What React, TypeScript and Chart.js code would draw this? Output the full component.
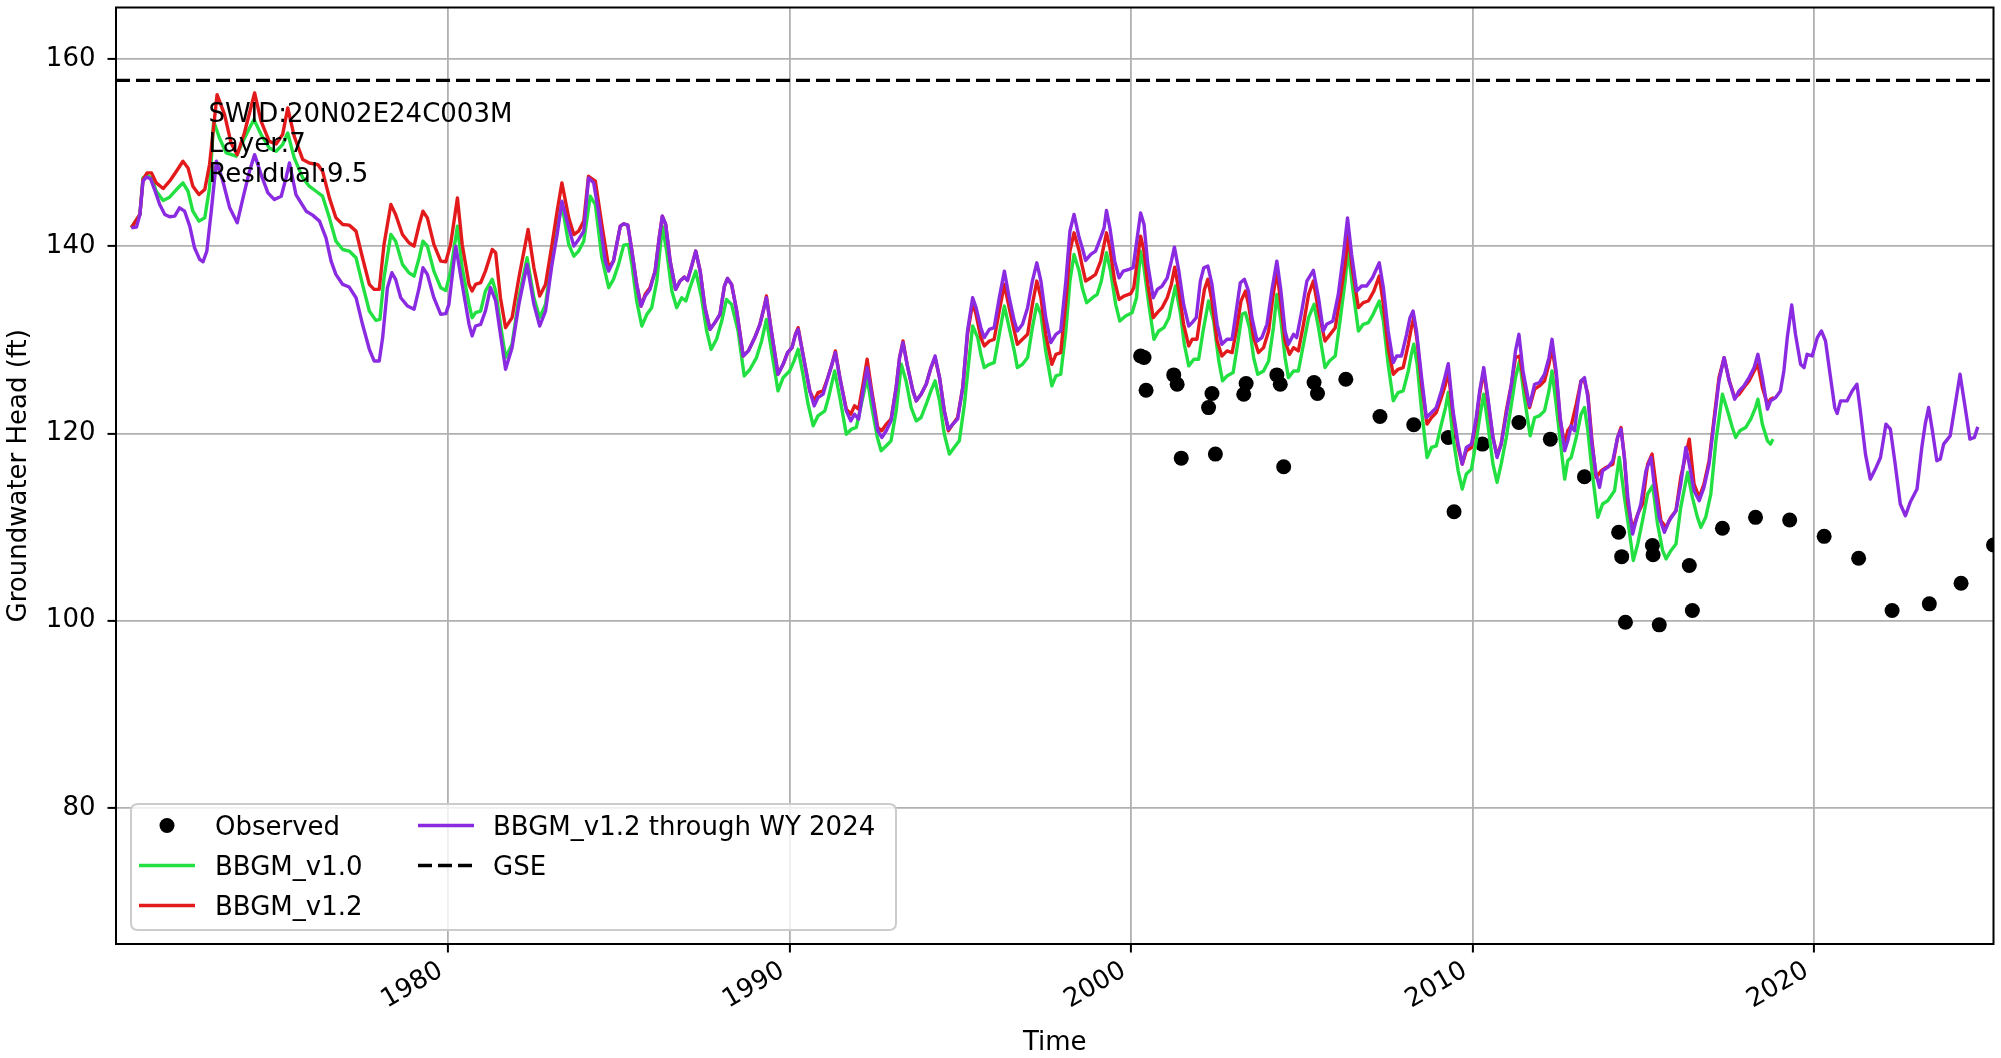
import { useEffect, useRef } from "react";
import { Chart, registerables } from "chart.js";

Chart.register(...registerables);

// ---- axis limits & ticks ----
const X_MIN = 1970.27;
const X_MAX = 2025.26;
const Y_MIN = 65.48;
const Y_MAX = 165.48;
const yearTicks = [1980, 1990, 2000, 2010, 2020];
const headTicks = [80, 100, 120, 140, 160];
const GSE = 157.7;

const annotationLines = ["SWID:20N02E24C003M", "Layer:7", "Residual:9.5"];
const xTitle = "Time";
const yTitle = "Groundwater Head (ft)";

// ---- observed ----
const obsYears = [2000.28, 2000.38, 2000.44, 2001.25, 2001.35, 2001.47, 2002.27, 2002.37, 2002.47, 2003.30, 2003.37, 2004.27, 2004.37, 2004.47, 2005.36, 2005.46, 2006.29, 2007.29, 2008.28, 2009.29, 2009.46, 2010.29, 2011.36, 2012.28, 2013.28, 2014.28, 2014.37, 2014.48, 2015.27, 2015.29, 2015.47, 2016.35, 2016.44, 2017.32, 2018.29, 2019.29, 2020.30, 2021.31, 2022.29, 2023.38, 2024.31, 2025.26];
const obsHeads = [128.27, 128.10, 124.61, 126.25, 125.25, 117.36, 122.76, 124.26, 117.79, 124.19, 125.33, 126.25, 125.25, 116.44, 125.43, 124.26, 125.79, 121.80, 120.92, 119.57, 111.64, 118.86, 121.17, 119.39, 115.37, 109.44, 106.84, 99.84, 108.02, 107.05, 99.56, 105.89, 101.09, 109.87, 111.04, 110.75, 109.01, 106.67, 101.09, 101.80, 104.00, 108.09];

// ---- BBGM_v1.0 ----
const v10Years = [
  1970.72, 1970.97, 1971.06, 1971.18, 1971.31, 1971.45, 1971.65, 1971.84, 1972.04, 1972.23, 1972.38, 1972.52, 1972.70, 1972.87, 1973.01, 1973.13, 1973.30, 1973.50, 1973.79, 1973.99, 1974.18, 1974.31, 1974.52, 1974.76, 1974.96, 1975.15, 1975.30, 1975.49, 1975.74, 1975.93, 1976.13, 1976.32, 1976.52, 1976.71, 1976.91, 1977.10, 1977.30, 1977.49, 1977.69, 1977.88, 1978.00, 1978.12, 1978.32, 1978.46, 1978.66, 1978.85, 1979.00, 1979.15, 1979.26, 1979.39, 1979.58, 1979.78, 1979.93, 1980.07, 1980.27, 1980.41, 1980.61, 1980.70, 1980.80, 1980.95, 1981.09, 1981.29, 1981.39, 1981.53, 1981.68, 1981.87, 1982.07, 1982.31, 1982.51, 1982.68, 1982.85, 1983.04, 1983.19, 1983.33, 1983.53, 1983.68, 1983.82, 1983.97, 1984.16, 1984.31, 1984.50, 1984.70,
  1984.84, 1984.99, 1985.14, 1985.28, 1985.38, 1985.52, 1985.67, 1985.82, 1985.96, 1986.11, 1986.27, 1986.40, 1986.55, 1986.69, 1986.84, 1986.96, 1987.08, 1987.25, 1987.42, 1987.57, 1987.70, 1987.86, 1988.01, 1988.15, 1988.30, 1988.49, 1988.67, 1988.84, 1989.03, 1989.18, 1989.32, 1989.47, 1989.66, 1989.81, 1990.00, 1990.13, 1990.25, 1990.39, 1990.54, 1990.69, 1990.83, 1991.03, 1991.14, 1991.32, 1991.47, 1991.66, 1991.81, 1991.95, 1992.10, 1992.27, 1992.39, 1992.57, 1992.68, 1992.83, 1992.97, 1993.12, 1993.27, 1993.41, 1993.56, 1993.71, 1993.85, 1994.00, 1994.14, 1994.26, 1994.39, 1994.53, 1994.68, 1994.82, 1994.97, 1995.12, 1995.26, 1995.36, 1995.51, 1995.60, 1995.70, 1995.85, 1995.99, 1996.14, 1996.29, 1996.43, 1996.58, 1996.67, 1996.82, 1996.97, 1997.11, 1997.24, 1997.36, 1997.50, 1997.68, 1997.80, 1997.94, 1998.09, 1998.21, 1998.33, 1998.48,
  1998.57, 1998.70, 1998.87, 1999.01, 1999.13, 1999.28, 1999.40, 1999.55, 1999.67, 1999.84, 2000.03, 2000.16, 2000.28, 2000.38, 2000.52, 2000.67, 2000.81, 2000.96, 2001.11, 2001.30, 2001.45, 2001.56, 2001.69, 2001.84, 2001.98, 2002.11, 2002.27, 2002.42, 2002.57, 2002.68, 2002.81, 2002.99, 2003.12, 2003.25, 2003.35, 2003.47, 2003.59, 2003.71, 2003.88, 2004.03, 2004.17, 2004.27, 2004.39, 2004.51, 2004.61, 2004.76, 2004.90, 2005.05, 2005.20, 2005.36, 2005.49, 2005.68, 2005.81, 2005.98, 2006.12, 2006.27, 2006.36, 2006.49, 2006.66, 2006.80, 2006.95, 2007.09, 2007.27, 2007.39, 2007.53, 2007.68, 2007.82, 2007.97, 2008.12, 2008.21, 2008.28, 2008.38, 2008.51, 2008.67, 2008.80, 2008.94, 2009.09, 2009.21, 2009.29, 2009.43, 2009.58, 2009.70, 2009.82, 2009.97, 2010.11, 2010.21, 2010.33, 2010.45, 2010.60, 2010.72, 2010.84, 2010.99, 2011.14, 2011.26, 2011.38, 2011.52, 2011.69, 2011.82, 2011.96, 2012.11, 2012.24, 2012.33,
  2012.45, 2012.57, 2012.70, 2012.79, 2012.89, 2013.04, 2013.18, 2013.28, 2013.38, 2013.50, 2013.67, 2013.81, 2013.96, 2014.16, 2014.30, 2014.45, 2014.59, 2014.71, 2014.84, 2014.98, 2015.13, 2015.28, 2015.42, 2015.57, 2015.67, 2015.81, 2015.96, 2016.10, 2016.30, 2016.44, 2016.59, 2016.69, 2016.83, 2016.98, 2017.13, 2017.32, 2017.47, 2017.61, 2017.71, 2017.83, 2018.00, 2018.15, 2018.29, 2018.36, 2018.49, 2018.64, 2018.73, 2018.80,
];
const v10Heads = [
  141.96, 143.38, 147.29, 147.57, 147.29, 145.86, 144.87, 145.23, 146.04, 146.75, 145.86, 143.73, 142.67, 143.02, 146.22, 153.33, 151.55, 149.95, 149.60, 151.19, 152.62, 153.51, 151.91, 150.48, 150.13, 150.84, 152.08, 149.42, 147.29, 146.40, 145.86, 145.33, 143.02, 140.53, 139.64, 139.47, 138.76, 135.91, 133.07, 132.07, 132.18, 136.62, 141.24, 140.53, 138.05, 137.16, 136.80, 138.76, 140.53, 140.00, 137.33, 135.56, 135.27, 137.33, 142.13, 137.69, 133.78, 132.36, 132.89, 133.07, 135.20, 136.45, 135.20, 131.65, 128.10, 129.52, 134.49, 138.76, 134.49, 132.36, 133.78, 138.76, 141.96, 144.44, 140.18, 138.93, 139.47, 140.53, 145.33, 144.44, 138.76, 135.56,
  136.45, 138.05, 140.11, 140.18, 138.05, 134.14, 131.47, 132.72, 133.43, 136.27, 142.13, 139.47, 135.20, 133.43, 134.49, 134.14, 135.56, 137.33, 134.49, 130.94, 128.98, 130.05, 132.00, 134.31, 133.78, 130.94, 126.14, 126.85, 128.10, 129.87, 132.18, 128.81, 124.54, 125.96, 126.67, 127.74, 128.98, 126.32, 123.12, 120.81, 121.88, 122.41, 123.83, 126.67, 123.83, 119.92, 120.45, 120.63, 123.12, 125.96, 123.12, 119.57, 118.15, 118.68, 119.21, 122.41, 127.38, 125.61, 122.76, 121.34, 121.70, 123.12, 124.54, 125.61, 123.48, 119.92, 117.79, 118.50, 119.21, 123.12, 128.10, 131.47, 130.23, 128.45, 127.03, 127.38, 127.56, 130.58, 133.60, 131.29, 128.81, 127.03, 127.38, 128.10, 131.29, 133.78, 132.72, 128.81, 125.07, 126.14, 126.32, 130.94, 136.27, 139.11, 137.33,
  135.56, 133.96, 134.49, 134.85, 136.27, 139.29, 137.33, 133.78, 132.00, 132.54, 132.89, 134.49, 139.47, 137.69, 133.78, 130.05, 130.94, 131.29, 132.36, 135.74, 132.72, 129.52, 127.21, 127.92, 127.92, 130.94, 134.14, 132.00, 127.74, 125.61, 126.14, 126.50, 129.52, 132.72, 132.89, 131.29, 128.10, 126.32, 126.67, 127.74, 131.29, 134.85, 132.00, 128.10, 125.96, 126.67, 126.67, 129.52, 132.36, 133.78, 131.29, 127.03, 127.74, 128.27, 132.00, 136.27, 139.64, 135.56, 130.94, 131.65, 131.83, 132.72, 134.14, 132.00, 127.38, 123.48, 124.36, 124.54, 126.67, 128.45, 129.52, 127.38, 122.41, 117.43, 118.50, 118.68, 120.99, 122.76, 124.36, 119.57, 116.01, 114.06, 115.66, 116.19, 119.21, 121.70, 124.19, 120.99, 116.72, 114.77, 116.72, 119.57, 123.12, 125.96, 127.74, 123.83, 119.74, 121.70, 121.88, 122.41, 124.54, 126.67,
  123.12, 119.21, 115.12, 117.08, 117.43, 119.57, 122.05, 122.76, 120.28, 116.01, 111.04, 112.46, 112.81, 113.88, 117.43, 113.17, 109.62, 106.42, 108.20, 110.68, 113.53, 114.41, 110.33, 107.48, 106.60, 107.48, 108.19, 112.10, 115.83, 113.17, 111.04, 109.97, 111.04, 113.53, 119.21, 124.19, 122.41, 120.63, 119.57, 120.28, 120.63, 121.52, 122.76, 123.65, 120.99, 119.21, 118.86, 119.39,
];

// ---- BBGM_v1.2 ----
const v12Years = [
  1970.72, 1970.97, 1971.06, 1971.18, 1971.31, 1971.45, 1971.65, 1971.84, 1972.04, 1972.23, 1972.38, 1972.52, 1972.70, 1972.87, 1973.01, 1973.23, 1973.45, 1973.64, 1973.82, 1974.03, 1974.33, 1974.52, 1974.76, 1974.96, 1975.15, 1975.30, 1975.49, 1975.74, 1975.93, 1976.18, 1976.32, 1976.52, 1976.71, 1976.91, 1977.10, 1977.30, 1977.49, 1977.69, 1977.83, 1977.98, 1978.12, 1978.32, 1978.46, 1978.66, 1978.85, 1979.00, 1979.15, 1979.26, 1979.39, 1979.58, 1979.78, 1979.93, 1980.07, 1980.27, 1980.41, 1980.61, 1980.70, 1980.80, 1980.95, 1981.09, 1981.29, 1981.39, 1981.53, 1981.68, 1981.87, 1982.07, 1982.34, 1982.51, 1982.68, 1982.85, 1983.04, 1983.19, 1983.33, 1983.53, 1983.68, 1983.82, 1983.97, 1984.11, 1984.31, 1984.50, 1984.70,
  1984.84, 1985.04, 1985.14, 1985.26, 1985.38, 1985.52, 1985.65, 1985.77, 1985.91, 1986.06, 1986.18, 1986.27, 1986.37, 1986.50, 1986.66, 1986.79, 1986.92, 1987.01, 1987.13, 1987.25, 1987.38, 1987.52, 1987.67, 1987.81, 1987.96, 1988.09, 1988.18, 1988.30, 1988.45, 1988.64, 1988.79, 1988.98, 1989.13, 1989.25, 1989.32, 1989.45, 1989.66, 1989.81, 1989.94, 1990.07, 1990.17, 1990.25, 1990.39, 1990.59, 1990.72, 1990.83, 1990.98, 1991.12, 1991.24, 1991.34, 1991.47, 1991.66, 1991.79, 1991.90, 1992.02, 1992.15, 1992.27, 1992.39, 1992.58, 1992.70, 1992.83, 1992.97, 1993.12, 1993.22, 1993.32, 1993.44, 1993.61, 1993.71, 1993.85, 1994.00, 1994.14, 1994.26, 1994.39, 1994.53, 1994.65, 1994.78, 1994.92, 1995.07, 1995.21, 1995.36, 1995.46, 1995.60, 1995.70, 1995.85, 1995.99, 1996.14, 1996.29, 1996.43, 1996.58, 1996.67, 1996.82, 1996.97, 1997.11, 1997.24, 1997.36, 1997.50, 1997.68, 1997.80, 1997.94, 1998.09, 1998.21, 1998.33, 1998.48,
  1998.57, 1998.67, 1998.82, 1998.96, 1999.11, 1999.28, 1999.38, 1999.52, 1999.65, 1999.79, 1999.99, 2000.08, 2000.18, 2000.28, 2000.38, 2000.49, 2000.65, 2000.77, 2000.91, 2001.06, 2001.18, 2001.28, 2001.40, 2001.54, 2001.69, 2001.79, 2001.93, 2002.05, 2002.15, 2002.25, 2002.37, 2002.52, 2002.66, 2002.81, 2002.96, 2003.08, 2003.22, 2003.35, 2003.44, 2003.59, 2003.73, 2003.88, 2004.03, 2004.15, 2004.27, 2004.39, 2004.51, 2004.64, 2004.76, 2004.90, 2005.05, 2005.20, 2005.34, 2005.49, 2005.68, 2005.83, 2005.98, 2006.12, 2006.27, 2006.36, 2006.49, 2006.66, 2006.80, 2006.95, 2007.11, 2007.27, 2007.39, 2007.53, 2007.68, 2007.82, 2007.97, 2008.12, 2008.21, 2008.28, 2008.38, 2008.51, 2008.67, 2008.80, 2008.94, 2009.09, 2009.21, 2009.29, 2009.43, 2009.58, 2009.70, 2009.82, 2009.97, 2010.11, 2010.21, 2010.33, 2010.45, 2010.60, 2010.72, 2010.84, 2010.99, 2011.14, 2011.26, 2011.38, 2011.52, 2011.67, 2011.82, 2011.96, 2012.11, 2012.24, 2012.33,
  2012.45, 2012.57, 2012.70, 2012.79, 2012.89, 2013.04, 2013.18, 2013.28, 2013.38, 2013.50, 2013.62, 2013.77, 2013.91, 2014.11, 2014.25, 2014.35, 2014.45, 2014.55, 2014.69, 2014.84, 2014.98, 2015.13, 2015.26, 2015.37, 2015.52, 2015.67, 2015.81, 2015.96, 2016.10, 2016.35, 2016.49, 2016.64, 2016.78, 2016.93, 2017.08, 2017.22, 2017.37, 2017.52, 2017.68, 2017.81, 2017.95, 2018.10, 2018.25, 2018.36, 2018.49, 2018.64, 2018.73, 2018.83,
];
const v12Heads = [
  141.96, 143.38, 147.11, 147.82, 147.82, 146.75, 146.15, 146.93, 148.00, 149.06, 148.35, 146.40, 145.51, 146.04, 148.71, 156.17, 154.04, 151.02, 149.77, 152.08, 156.35, 153.33, 151.19, 150.91, 151.91, 154.75, 151.73, 149.24, 148.88, 148.71, 148.00, 145.15, 143.02, 142.31, 142.24, 141.60, 138.76, 135.91, 135.38, 135.38, 140.18, 144.44, 143.38, 141.24, 140.36, 140.00, 142.31, 143.73, 143.02, 140.18, 138.40, 138.33, 140.18, 145.15, 140.18, 135.91, 135.20, 135.91, 136.09, 137.33, 139.64, 139.29, 134.49, 131.29, 132.36, 136.62, 141.78, 137.69, 134.67, 135.91, 140.18, 143.73, 146.75, 143.02, 141.24, 141.60, 142.67, 147.46, 146.93, 142.31, 137.69,
  138.40, 142.13, 142.38, 142.24, 139.47, 135.91, 133.60, 134.85, 135.56, 137.33, 140.89, 143.20, 142.31, 138.40, 135.38, 136.27, 136.70, 136.34, 137.87, 139.47, 137.33, 133.43, 131.12, 131.83, 132.72, 135.74, 136.55, 135.91, 133.07, 128.27, 128.81, 130.23, 131.65, 133.43, 134.67, 131.29, 126.32, 127.38, 128.63, 129.16, 130.58, 131.29, 128.45, 124.54, 123.48, 124.36, 124.54, 125.96, 127.38, 128.81, 125.96, 122.59, 122.05, 122.94, 122.59, 125.25, 127.92, 124.90, 120.63, 120.28, 120.99, 121.52, 124.90, 128.09, 129.87, 127.38, 124.54, 123.48, 124.19, 125.25, 127.03, 128.09, 125.96, 122.41, 120.28, 120.99, 121.70, 124.90, 130.58, 133.96, 132.72, 130.23, 129.34, 129.87, 130.05, 133.07, 135.91, 133.43, 130.94, 129.52, 130.05, 130.58, 133.78, 136.27, 134.49, 130.58, 127.38, 128.45, 128.63, 134.14, 139.47, 141.42, 139.47,
  137.87, 136.27, 136.62, 136.98, 138.40, 141.42, 139.82, 136.27, 134.31, 134.67, 134.92, 135.56, 138.40, 141.07, 139.47, 135.91, 132.36, 132.89, 133.43, 134.49, 135.91, 137.76, 135.20, 131.65, 129.34, 130.05, 130.05, 133.07, 135.38, 136.45, 134.14, 129.87, 128.27, 128.81, 128.63, 130.94, 134.14, 135.20, 133.78, 130.23, 128.63, 129.16, 130.94, 134.49, 137.33, 133.78, 129.87, 128.45, 129.16, 128.81, 131.65, 134.85, 136.27, 133.07, 129.87, 130.58, 131.29, 134.49, 138.05, 141.24, 137.33, 133.43, 133.96, 134.14, 135.20, 136.80, 133.78, 129.16, 126.32, 126.85, 127.03, 129.52, 131.29, 132.36, 129.87, 125.25, 120.99, 121.70, 122.23, 123.83, 125.25, 126.67, 122.05, 118.50, 116.72, 118.15, 118.50, 121.34, 124.19, 126.67, 123.48, 119.57, 117.61, 118.86, 122.41, 125.25, 128.10, 128.27, 125.25, 122.76, 124.72, 125.07, 125.61, 127.38, 129.16,
  126.32, 121.34, 118.86, 120.28, 120.81, 123.12, 125.61, 125.61, 124.19, 119.21, 115.30, 116.01, 116.37, 116.72, 119.57, 120.63, 117.43, 112.46, 109.79, 111.39, 112.46, 116.72, 117.79, 114.59, 110.68, 109.97, 111.04, 111.75, 115.30, 119.39, 114.59, 113.17, 114.59, 117.08, 121.70, 125.96, 128.09, 125.61, 123.83, 124.19, 124.90, 125.61, 126.67, 127.38, 124.90, 123.12, 123.65, 123.83,
];

// ---- BBGM_v1.2 through WY 2024 ----
const wy24Years = [
  1970.72, 1970.87, 1970.97, 1971.06, 1971.16, 1971.28, 1971.40, 1971.55, 1971.70, 1971.84, 1971.99, 1972.13, 1972.28, 1972.43, 1972.57, 1972.72, 1972.82, 1972.93, 1973.06, 1973.21, 1973.40, 1973.60, 1973.82, 1973.99, 1974.18, 1974.33, 1974.52, 1974.72, 1974.91, 1975.11, 1975.25, 1975.35, 1975.54, 1975.84, 1976.03, 1976.23, 1976.42, 1976.57, 1976.71, 1976.91, 1977.10, 1977.30, 1977.49, 1977.69, 1977.83, 1977.98, 1978.08, 1978.22, 1978.35, 1978.46, 1978.61, 1978.81, 1979.00, 1979.15, 1979.26, 1979.39, 1979.58, 1979.78, 1979.93, 1980.02, 1980.22, 1980.41, 1980.61, 1980.70, 1980.80, 1980.95, 1981.09, 1981.24, 1981.39, 1981.53, 1981.68, 1981.87, 1982.07, 1982.31, 1982.51, 1982.68, 1982.85, 1983.04, 1983.19, 1983.33, 1983.53, 1983.68, 1983.82, 1983.97, 1984.11, 1984.26, 1984.40, 1984.60, 1984.70,
  1984.84, 1985.04, 1985.14, 1985.26, 1985.38, 1985.52, 1985.65, 1985.77, 1985.91, 1986.06, 1986.18, 1986.27, 1986.37, 1986.50, 1986.66, 1986.79, 1986.92, 1987.01, 1987.13, 1987.25, 1987.38, 1987.52, 1987.67, 1987.81, 1987.96, 1988.09, 1988.18, 1988.30, 1988.45, 1988.64, 1988.79, 1988.98, 1989.13, 1989.25, 1989.32, 1989.45, 1989.66, 1989.81, 1989.94, 1990.07, 1990.17, 1990.25, 1990.39, 1990.59, 1990.72, 1990.83, 1990.98, 1991.12, 1991.24, 1991.34, 1991.47, 1991.66, 1991.79, 1991.90, 1992.02, 1992.15, 1992.27, 1992.39, 1992.58, 1992.70, 1992.83, 1992.97, 1993.12, 1993.22, 1993.32, 1993.44, 1993.61, 1993.71, 1993.85, 1994.00, 1994.14, 1994.26, 1994.39, 1994.53, 1994.65, 1994.78, 1994.92, 1995.07, 1995.21, 1995.36, 1995.46, 1995.60, 1995.70, 1995.85, 1995.99, 1996.14, 1996.29, 1996.43, 1996.58, 1996.67, 1996.82, 1996.97, 1997.11, 1997.24, 1997.36, 1997.50, 1997.65, 1997.80, 1997.94, 1998.09, 1998.21, 1998.33, 1998.48,
  1998.57, 1998.67, 1998.82, 1998.96, 1999.09, 1999.21, 1999.28, 1999.38, 1999.52, 1999.65, 1999.77, 1999.94, 2000.06, 2000.18, 2000.28, 2000.38, 2000.49, 2000.65, 2000.77, 2000.91, 2001.06, 2001.18, 2001.27, 2001.40, 2001.54, 2001.69, 2001.79, 2001.91, 2002.03, 2002.13, 2002.25, 2002.37, 2002.52, 2002.66, 2002.81, 2002.96, 2003.08, 2003.20, 2003.32, 2003.44, 2003.54, 2003.69, 2003.83, 2003.98, 2004.12, 2004.27, 2004.39, 2004.51, 2004.61, 2004.76, 2004.85, 2005.00, 2005.15, 2005.34, 2005.49, 2005.63, 2005.73, 2005.91, 2006.07, 2006.22, 2006.34, 2006.46, 2006.61, 2006.75, 2006.90, 2007.07, 2007.27, 2007.39, 2007.53, 2007.68, 2007.78, 2007.92, 2008.07, 2008.17, 2008.26, 2008.36, 2008.51, 2008.65, 2008.80, 2008.94, 2009.09, 2009.19, 2009.29, 2009.43, 2009.58, 2009.70, 2009.82, 2009.97, 2010.11, 2010.21, 2010.33, 2010.45, 2010.60, 2010.72, 2010.84, 2010.99, 2011.14, 2011.26, 2011.36, 2011.48, 2011.67, 2011.82, 2011.96, 2012.11, 2012.24, 2012.33,
  2012.45, 2012.57, 2012.70, 2012.79, 2012.89, 2012.99, 2013.08, 2013.18, 2013.28, 2013.38, 2013.50, 2013.62, 2013.72, 2013.81, 2013.96, 2014.11, 2014.25, 2014.35, 2014.45, 2014.55, 2014.69, 2014.79, 2014.93, 2015.08, 2015.23, 2015.32, 2015.47, 2015.62, 2015.76, 2015.96, 2016.10, 2016.25, 2016.35, 2016.49, 2016.64, 2016.78, 2016.93, 2017.08, 2017.22, 2017.37, 2017.52, 2017.68, 2017.81, 2017.95, 2018.10, 2018.25, 2018.36, 2018.49, 2018.64, 2018.73, 2018.88, 2019.02, 2019.12, 2019.22, 2019.35, 2019.46, 2019.61, 2019.71, 2019.80, 2019.95, 2020.10, 2020.22, 2020.34, 2020.46, 2020.61, 2020.68, 2020.78, 2020.97, 2021.12, 2021.26, 2021.36, 2021.51, 2021.65, 2021.80, 2021.95, 2022.11, 2022.24, 2022.38, 2022.53, 2022.68, 2022.82, 2023.02, 2023.16, 2023.26, 2023.36, 2023.47, 2023.60, 2023.70, 2023.80, 2023.99, 2024.14, 2024.28, 2024.43, 2024.57, 2024.70, 2024.80,
];
const wy24Heads = [
  141.96, 142.03, 143.38, 146.93, 147.36, 147.21, 146.04, 144.44, 143.38, 143.13, 143.20, 144.09, 143.73, 142.13, 139.82, 138.58, 138.33, 139.47, 143.73, 149.06, 146.93, 144.09, 142.49, 145.15, 148.00, 149.77, 147.64, 145.69, 144.97, 145.33, 147.29, 148.88, 145.51, 143.73, 143.31, 142.67, 140.89, 138.40, 136.98, 135.91, 135.63, 134.49, 131.65, 128.98, 127.74, 127.74, 130.23, 135.56, 137.16, 136.45, 134.49, 133.60, 133.25, 135.56, 137.69, 136.98, 134.49, 132.71, 132.79, 133.78, 140.00, 135.91, 131.65, 130.41, 131.47, 131.65, 133.07, 135.56, 134.14, 130.58, 126.85, 129.15, 133.78, 138.05, 133.78, 131.47, 133.07, 138.05, 141.24, 144.80, 141.96, 140.00, 140.71, 141.60, 147.29, 146.75, 143.73, 138.40, 137.33,
  138.40, 142.13, 142.38, 142.24, 139.47, 135.91, 133.60, 134.67, 135.38, 137.33, 140.89, 143.20, 142.31, 138.40, 135.38, 136.27, 136.70, 136.34, 137.87, 139.47, 137.33, 133.43, 131.12, 131.83, 132.72, 135.74, 136.55, 135.91, 133.07, 128.27, 128.81, 130.23, 131.65, 133.43, 134.49, 131.29, 126.32, 127.38, 128.63, 129.16, 130.58, 131.12, 128.45, 124.54, 122.94, 123.83, 124.19, 125.96, 127.38, 128.63, 125.96, 122.41, 121.34, 122.05, 121.52, 124.54, 127.03, 124.54, 120.28, 119.57, 120.28, 121.34, 124.90, 128.09, 129.70, 127.38, 124.54, 123.48, 124.19, 125.25, 127.03, 128.27, 125.96, 122.41, 120.45, 120.99, 121.52, 124.90, 130.94, 134.49, 133.43, 131.29, 130.23, 131.12, 131.29, 134.49, 137.33, 134.49, 132.00, 130.94, 131.65, 133.43, 136.27, 138.22, 136.27, 132.36, 129.70, 130.58, 130.94, 136.27, 141.60, 143.38, 140.89,
  139.82, 138.47, 139.11, 139.47, 140.71, 141.95, 143.80, 141.95, 138.40, 136.62, 137.33, 137.51, 137.69, 140.89, 143.55, 142.31, 138.05, 134.49, 135.38, 135.74, 136.62, 138.40, 139.89, 137.33, 133.78, 131.47, 131.83, 132.36, 136.27, 137.69, 137.87, 135.91, 131.65, 129.52, 130.05, 130.05, 133.07, 136.09, 136.45, 135.20, 132.36, 129.87, 130.23, 131.65, 135.20, 138.40, 135.20, 130.94, 129.52, 130.58, 130.23, 133.07, 136.27, 137.41, 134.49, 130.94, 131.65, 132.00, 134.85, 139.11, 143.02, 139.11, 135.20, 135.74, 135.74, 136.62, 138.22, 135.56, 130.94, 127.56, 128.27, 128.27, 130.58, 132.36, 133.07, 130.94, 125.96, 121.70, 122.23, 122.76, 124.54, 125.96, 127.45, 122.41, 118.86, 116.72, 118.50, 118.86, 121.70, 124.54, 127.03, 123.83, 119.57, 117.43, 118.86, 122.05, 125.25, 128.81, 130.58, 126.67, 122.94, 125.25, 125.43, 126.32, 128.10, 130.05,
  126.67, 121.70, 118.15, 119.21, 120.81, 120.28, 123.12, 125.61, 125.96, 123.83, 118.86, 115.66, 114.24, 116.01, 116.37, 117.08, 119.57, 120.46, 117.43, 113.17, 109.26, 110.68, 112.46, 116.01, 117.43, 114.59, 111.04, 109.44, 110.68, 111.75, 114.59, 118.50, 116.72, 113.88, 112.81, 114.24, 116.72, 121.34, 125.61, 128.09, 125.61, 123.65, 124.54, 125.07, 125.96, 127.03, 128.45, 125.96, 122.59, 123.48, 123.83, 124.54, 126.67, 130.23, 133.71, 130.58, 127.38, 127.03, 128.45, 128.27, 130.23, 130.94, 129.87, 126.67, 122.76, 122.13, 123.47, 123.47, 124.54, 125.25, 122.41, 117.79, 115.12, 116.19, 117.43, 120.99, 120.46, 116.72, 112.46, 111.21, 112.64, 114.06, 118.50, 120.99, 122.77, 120.28, 117.08, 117.26, 118.86, 119.74, 123.12, 126.32, 122.76, 119.39, 119.57, 120.70,
];

const seriesLabels = ["Observed", "BBGM_v1.0", "BBGM_v1.2", "BBGM_v1.2 through WY 2024", "GSE"];
const seriesColors = ["#000000", "#22e042", "#e31a1c", "#8a2be2", "#000000"];

const FONT = "'DejaVu Sans', 'Noto Sans', sans-serif";
const FS = 26;
const LINE_W = 3.4;
const DASH = [14, 6];

function pts(xs: number[], ys: number[]) {
  return xs.map((x, i) => ({ x, y: ys[i] }));
}

const decorPlugin = {
  id: "decor",
  afterDraw(chart: any) {
    const { ctx, chartArea: a, scales } = chart;
    ctx.save();
    // spines
    ctx.strokeStyle = "#000";
    ctx.lineWidth = 2;
    ctx.strokeRect(a.left, a.top, a.right - a.left, a.bottom - a.top);

    ctx.fillStyle = "#000";
    ctx.font = `${FS}px ${FONT}`;

    // annotation text
    ctx.textAlign = "left";
    ctx.textBaseline = "alphabetic";
    const tx = a.left + 0.05 * (a.right - a.left) - 1.5;
    annotationLines.forEach((t, i) => ctx.fillText(t, tx, a.top + 114 + 30 * i));

    // x tick labels (rotated 30deg)
    const xs = scales.x;
    yearTicks.forEach((v) => {
      const px = xs.getPixelForValue(v);
      ctx.save();
      ctx.translate(px - 13.7, a.bottom + 13.7);
      ctx.rotate(-Math.PI / 6);
      ctx.textAlign = "right";
      ctx.textBaseline = "top";
      ctx.fillText(String(v), 0, 0);
      ctx.restore();
    });

    // axis titles
    ctx.textAlign = "center";
    ctx.textBaseline = "alphabetic";
    ctx.fillText(xTitle, (a.left + a.right) / 2, 1050);
    ctx.save();
    ctx.translate(25.5, (a.top + a.bottom) / 2);
    ctx.rotate(-Math.PI / 2);
    ctx.fillText(yTitle, 0, 0);
    ctx.restore();

    // legend
    const bx = a.left + 15, by = a.bottom - 140, bw = 765, bh = 126, r = 7;
    ctx.beginPath();
    ctx.moveTo(bx + r, by);
    ctx.lineTo(bx + bw - r, by);
    ctx.quadraticCurveTo(bx + bw, by, bx + bw, by + r);
    ctx.lineTo(bx + bw, by + bh - r);
    ctx.quadraticCurveTo(bx + bw, by + bh, bx + bw - r, by + bh);
    ctx.lineTo(bx + r, by + bh);
    ctx.quadraticCurveTo(bx, by + bh, bx, by + bh - r);
    ctx.lineTo(bx, by + r);
    ctx.quadraticCurveTo(bx, by, bx + r, by);
    ctx.closePath();
    ctx.fillStyle = "rgba(255,255,255,0.8)";
    ctx.fill();
    ctx.strokeStyle = "#cccccc";
    ctx.lineWidth = 2;
    ctx.stroke();

    const rowY = [by + 21.5, by + 61.5, by + 101.5];
    const cols = [
      { hx: bx + 8, tx: bx + 84 },
      { hx: bx + 287, tx: bx + 362 },
    ];
    const entries = [
      { col: 0, row: 0, kind: "dot", i: 0 },
      { col: 0, row: 1, kind: "line", i: 1 },
      { col: 0, row: 2, kind: "line", i: 2 },
      { col: 1, row: 0, kind: "line", i: 3 },
      { col: 1, row: 1, kind: "dash", i: 4 },
    ];
    entries.forEach((e) => {
      const c = cols[e.col];
      const y = rowY[e.row];
      ctx.save();
      if (e.kind === "dot") {
        ctx.fillStyle = seriesColors[e.i];
        ctx.beginPath();
        ctx.arc(c.hx + 28, y, 7.5, 0, Math.PI * 2);
        ctx.fill();
      } else {
        ctx.strokeStyle = seriesColors[e.i];
        ctx.lineWidth = LINE_W;
        ctx.setLineDash(e.kind === "dash" ? DASH : []);
        ctx.beginPath();
        ctx.moveTo(c.hx, y);
        ctx.lineTo(c.hx + 56, y);
        ctx.stroke();
      }
      ctx.restore();
      ctx.fillStyle = "#000";
      ctx.textAlign = "left";
      ctx.textBaseline = "alphabetic";
      ctx.fillText(seriesLabels[e.i], c.tx, y + 9);
    });

    ctx.restore();
  },
};

export default function App() {
  const ref = useRef<HTMLCanvasElement | null>(null);
  useEffect(() => {
    if (!ref.current) return;
    const lineDs = (i: number, data: any[], extra: any = {}) => ({
      label: seriesLabels[i],
      data,
      showLine: true,
      borderColor: seriesColors[i],
      backgroundColor: seriesColors[i],
      borderWidth: LINE_W,
      pointRadius: 0,
      pointHoverRadius: 0,
      tension: 0,
      borderJoinStyle: "round",
      clip: 0,
      ...extra,
    });
    const chart = new Chart(ref.current, {
      type: "scatter",
      data: {
        datasets: [
          lineDs(4, [{ x: X_MIN, y: GSE }, { x: X_MAX, y: GSE }], { borderDash: DASH, borderJoinStyle: "miter" }),
          lineDs(3, pts(wy24Years, wy24Heads)),
          lineDs(2, pts(v12Years, v12Heads)),
          lineDs(1, pts(v10Years, v10Heads)),
          {
            label: seriesLabels[0],
            data: pts(obsYears, obsHeads),
            showLine: false,
            pointRadius: 7.5,
            pointHoverRadius: 7.5,
            pointBackgroundColor: "#000",
            pointBorderWidth: 0,
            backgroundColor: "#000",
            borderColor: "#000",
            clip: 0,
          },
        ],
      },
      options: {
        responsive: false,
        animation: false,
        devicePixelRatio: 1,
        events: [],
        layout: { padding: { top: 6, right: 2.5, left: 0, bottom: 0 } },
        plugins: { legend: { display: false }, tooltip: { enabled: false }, title: { display: false } },
        scales: {
          x: {
            type: "linear",
            min: X_MIN,
            max: X_MAX,
            afterBuildTicks: (s: any) => {
              s.ticks = yearTicks.map((v) => ({ value: v }));
            },
            afterFit: (s: any) => {
              s.height = 114;
              s.paddingLeft = 0;
              s.paddingRight = 0;
            },
            ticks: { display: false },
            grid: { color: "#b0b0b0", lineWidth: 1.8, drawTicks: true, tickLength: 8.5, tickColor: "#000", tickWidth: 2 },
            border: { display: false },
          },
          y: {
            type: "linear",
            min: Y_MIN,
            max: Y_MAX,
            afterBuildTicks: (s: any) => {
              s.ticks = headTicks.map((v) => ({ value: v }));
            },
            afterFit: (s: any) => {
              s.width = 116;
              s.paddingTop = 0;
              s.paddingBottom = 0;
            },
            ticks: {
              display: true,
              color: "#000",
              font: { family: FONT, size: FS },
              padding: 12,
              callback: (v: any) => String(v),
            },
            grid: { color: "#b0b0b0", lineWidth: 1.8, drawTicks: true, tickLength: 8.5, tickColor: "#000", tickWidth: 2 },
            border: { display: false },
          },
        },
      },
      plugins: [decorPlugin],
    } as any);
    return () => chart.destroy();
  }, []);
  return (
    <div style={{ position: "fixed", left: 0, top: 0, width: 2001, height: 1058, background: "#fff" }}>
      <canvas ref={ref} width={2001} height={1058} style={{ display: "block" }} />
    </div>
  );
}
